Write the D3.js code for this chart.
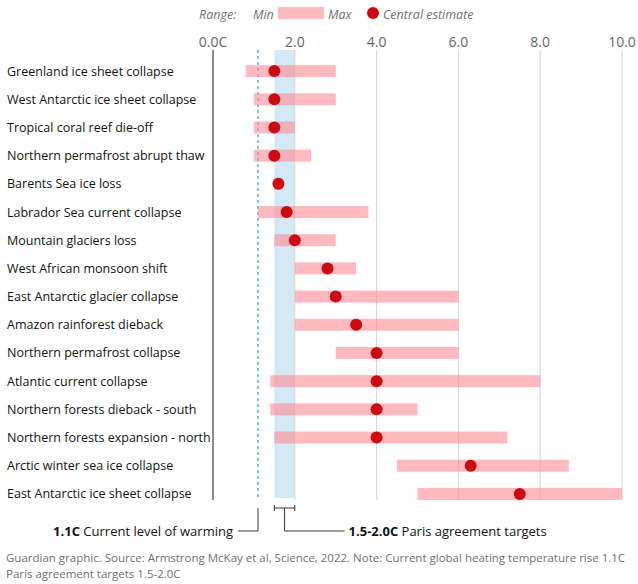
<!DOCTYPE html>
<html><head><meta charset="utf-8">
<script src="https://cdn.jsdelivr.net/npm/d3@7"></script>
<style>body{margin:0;background:#fff;font-family:"Open Sans",sans-serif;}</style>
</head><body><svg id="c" width="638" height="584"></svg>
<script>
const tipping = ['Greenland ice sheet collapse','West Antarctic ice sheet collapse','Tropical coral reef die-off','Northern permafrost abrupt thaw','Barents Sea ice loss','Labrador Sea current collapse','Mountain glaciers loss','West African monsoon shift','East Antarctic glacier collapse','Amazon rainforest dieback','Northern permafrost collapse','Atlantic current collapse','Northern forests dieback - south','Northern forests expansion - north','Arctic winter sea ice collapse','East Antarctic ice sheet collapse'];
const minTemp = [0.8,1.0,1.0,1.0,1.5,1.1,1.5,2.0,2.0,2.0,3.0,1.4,1.4,1.5,4.5,5.0];
const maxTemp = [3.0,3.0,2.0,2.4,1.7,3.8,3.0,3.5,6.0,6.0,6.0,8.0,5.0,7.2,8.7,10.0];
const central = [1.5,1.5,1.5,1.5,1.6,1.8,2.0,2.8,3.0,3.5,4.0,4.0,4.0,4.0,6.3,7.5];
const ticks = [0,2,4,6,8,10];
const currentWarming = 1.1, paris = [1.5,2.0];

const svg = d3.select('#c');
const x = d3.scaleLinear().domain([0,10]).range([213,622]);
const y = d3.scaleBand().domain(tipping).range([57,508]);
const cy = d => y(d) + y.bandwidth()/2;

// paris band
svg.append('rect').attr('x',x(paris[0])).attr('width',x(paris[1])-x(paris[0]))
  .attr('y',50).attr('height',448).attr('fill','#d3e9f6');
// grid
svg.selectAll('.g').data(ticks).enter().append('line')
  .attr('x1',d=>x(d)).attr('x2',d=>x(d)).attr('y1',50).attr('y2',500)
  .attr('stroke',d=>d===0?'#666':'#d6d6d6').attr('stroke-width',d=>d===0?1.5:1);
svg.selectAll('.t').data(ticks).enter().append('text')
  .attr('x',d=>x(d)).attr('y',47).attr('text-anchor','middle')
  .attr('font-size',14).attr('fill','#666').text(d=>d===0?'0.0C':d.toFixed(1));
// current warming
svg.append('line').attr('x1',x(currentWarming)).attr('x2',x(currentWarming)).attr('y1',50).attr('y2',500)
  .attr('stroke','#4fb3e6').attr('stroke-width',1.5).attr('stroke-dasharray','3,3');

// ranges
svg.selectAll('.r').data(tipping).enter().append('rect')
  .attr('x',(d,i)=>x(minTemp[i])).attr('width',(d,i)=>x(maxTemp[i])-x(minTemp[i]))
  .attr('y',d=>cy(d)-6).attr('height',12).attr('fill','#ff8a94').attr('opacity',0.6);
svg.selectAll('.p').data(tipping).enter().append('circle')
  .attr('cx',(d,i)=>x(central[i])).attr('cy',cy).attr('r',6).attr('fill','#cc0a11');
svg.selectAll('.l').data(tipping).enter().append('text')
  .attr('x',7).attr('y',d=>cy(d)+4.5).attr('font-size',12.5).attr('fill','#121212').text(d=>d);

// legend
const lg = svg.append('g').attr('font-size',12.5).attr('font-style','italic').attr('fill','#707070');
lg.append('text').attr('x',199).attr('y',19).text('Range:');
lg.append('text').attr('x',253).attr('y',19).text('Min');
svg.append('rect').attr('x',278).attr('y',7).attr('width',46).attr('height',12).attr('fill','#ff8a94').attr('opacity',0.6);
lg.append('text').attr('x',328).attr('y',19).text('Max');
svg.append('circle').attr('cx',373).attr('cy',13).attr('r',6).attr('fill','#cc0a11');
lg.append('text').attr('x',383).attr('y',19).text('Central estimate');

// annotations
const a = svg.append('g').attr('stroke','#333').attr('fill','none');
a.append('path').attr('d',`M${x(1.1)},508 V531 H${x(1.1)-20}`);
a.append('path').attr('d',`M${x(1.5)},508 H${x(2)} M${x(1.5)},505 V511 M${x(2)},505 V511 M${x(1.75)},508 V531 H${x(1.75)+60}`);
svg.append('text').attr('x',x(1.1)-25).attr('y',536).attr('text-anchor','end').attr('font-size',13).attr('fill','#121212')
  .html('<tspan font-weight="bold">1.1C</tspan> Current level of warming');
svg.append('text').attr('x',x(1.75)+64).attr('y',536).attr('font-size',13).attr('fill','#121212')
  .html('<tspan font-weight="bold">1.5-2.0C</tspan> Paris agreement targets');
const s = svg.append('g').attr('font-size',11.5).attr('fill','#707070');
s.append('text').attr('x',6).attr('y',562).text('Guardian graphic. Source: Armstrong McKay et al, Science, 2022. Note: Current global heating temperature rise 1.1C');
s.append('text').attr('x',6).attr('y',578).text('Paris agreement targets 1.5-2.0C');
</script></body></html>
